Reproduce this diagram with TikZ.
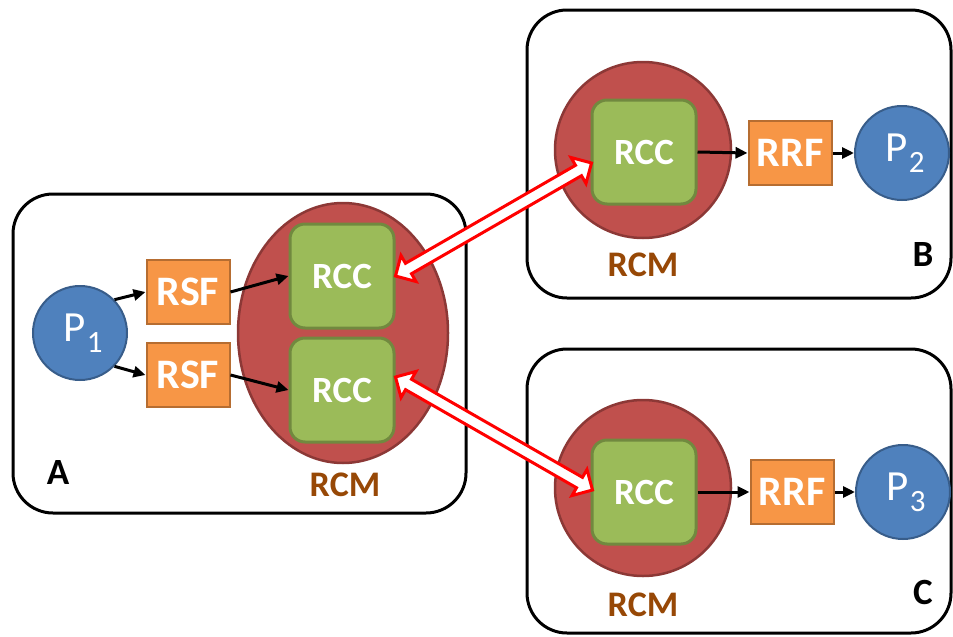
\documentclass[tikz,border=0pt]{standalone}
\usepackage{fontspec}
\setmainfont{Carlito}
\usetikzlibrary{calc,arrows.meta,shapes.geometric}

\definecolor{procfill}{HTML}{4F81BD}
\definecolor{procline}{HTML}{385D8A}
\definecolor{filtfill}{HTML}{F79646}
\definecolor{filtline}{HTML}{B66D31}
\definecolor{rcmfill}{HTML}{C0504D}
\definecolor{rcmline}{HTML}{8C3836}
\definecolor{rccfill}{HTML}{9BBB59}
\definecolor{rccline}{HTML}{71893F}
\definecolor{rcmtext}{HTML}{974806}
\definecolor{linkred}{HTML}{FF0000}

% hollow double-headed link between two coordinates
\newcommand\hollowlink[2]{%
  \path ($(#1)!15pt!(#2)$) coordinate (hA) ($(#2)!15pt!(#1)$) coordinate (hB);
  \draw[linkarrow] (#1)
    -- ($(hA)!15pt!90:(#2)$) -- ($(hA)!6pt!90:(#2)$)
    -- ($(hB)!6pt!-90:(#1)$) -- ($(hB)!15pt!-90:(#1)$)
    -- (#2)
    -- ($(hB)!15pt!90:(#1)$) -- ($(hB)!6pt!90:(#1)$)
    -- ($(hA)!6pt!-90:(#2)$) -- ($(hA)!15pt!-90:(#2)$)
    -- cycle;}

\newcommand\procname[1]{\hspace*{6pt}\fontsize{43}{43}\selectfont P\kern1pt\raisebox{-11pt}{\fontsize{31}{31}\selectfont #1}}

\begin{document}
\begin{tikzpicture}[x=1pt,y=-1pt,
  panel/.style={draw=black, line width=3pt, rounded corners=40pt, inner sep=0},
  proc/.style={circle, draw=procline, fill=procfill, line width=2pt,
    minimum size=94pt, inner sep=0, text=white},
  filt/.style={rectangle, draw=filtline, fill=filtfill, line width=2pt,
    minimum width=83pt, minimum height=64pt, inner sep=0, text=white,
    font=\bfseries\fontsize{42}{42}\selectfont},
  rccbox/.style={rectangle, rounded corners=15pt, draw=rccline, fill=rccfill,
    line width=3pt, minimum width=104pt, minimum height=104pt, inner sep=0,
    text=white, font=\bfseries\fontsize{37}{37}\selectfont},
  rcmshape/.style={draw=rcmline, fill=rcmfill, line width=2.5pt, inner sep=0},
  rcmlabel/.style={inner sep=0, text=rcmtext, font=\bfseries\fontsize{36}{36}\selectfont},
  sitelabel/.style={inner sep=0, text=black, font=\bfseries\fontsize{37}{37}\selectfont},
  flow/.style={-{Triangle[length=12pt,width=11pt]}, line width=3pt, black},
  linkarrow/.style={draw=linkred, fill=white, line width=3pt, line join=miter},
]
\useasboundingbox (0,0) rectangle (953,637);

% site panels
\node[panel, minimum width=453pt, minimum height=319pt] (boxA) at (239.5,353.5) {};
\node[panel, minimum width=424pt, minimum height=288pt] (boxB) at (739,154) {};
\node[panel, minimum width=424pt, minimum height=284pt] (boxC) at (739,491) {};

% site A
\node[ellipse, rcmshape, minimum width=210pt, minimum height=260pt] (rcmA) at (343,333) {};
\node[rccbox] (rccA1) at (342,276) {RCC};
\node[rccbox] (rccA2) at (342,390) {RCC};
\node[proc] (p1) at (80,333) {\procname{1}};
\node[filt] (rsf1) at (188,292) {RSF};
\node[filt] (rsf2) at (188,375) {RSF};
\node[rcmlabel] (rcmAlab) at (345,485) {RCM};
\node[sitelabel] (labA) at (58,472) {A};

\draw[flow] (p1.44) -- (rsf1.west);
\draw[flow] (p1.-44) -- (rsf2.west);
\draw[flow] (rsf1.east) -- (rccA1.west);
\draw[flow] (rsf2.east) -- (rccA2.west);

% site B
\node[circle, rcmshape, minimum size=176pt] (rcmB) at (643,150) {};
\node[rccbox] (rccB) at (644,152) {RCC};
\node[filt] (rrfB) at (790,153) {RRF};
\node[proc] (p2) at (902,153) {\procname{2}};
\node[rcmlabel] (rcmBlab) at (643,265) {RCM};
\node[sitelabel] (labB) at (923,255) {B};

\draw[flow] (rccB.east) -- (rrfB.west);
\draw[flow] (rrfB.east) -- (p2.west);

% site C
\node[circle, rcmshape, minimum size=176pt] (rcmC) at (643,488) {};
\node[rccbox] (rccC) at (644,492) {RCC};
\node[filt] (rrfC) at (792,492) {RRF};
\node[proc] (p3) at (903,492) {\procname{3}};
\node[rcmlabel] (rcmClab) at (643,605) {RCM};
\node[sitelabel] (labC) at (923,592) {C};

\draw[flow] (rccC.east) -- (rrfC.west);
\draw[flow] (rrfC.east) -- (p3.west);

% links between the RCC instances
\coordinate (lkA1) at (rccA1.east);
\coordinate (lkB) at ($(rccB.west)+(1,11)$);
\coordinate (lkA2) at ($(rccA2.east)+(0,-13)$);
\coordinate (lkC) at ($(rccC.west)+(2,-2)$);
\hollowlink{lkA1}{lkB}
\hollowlink{lkA2}{lkC}
\end{tikzpicture}
\end{document}
